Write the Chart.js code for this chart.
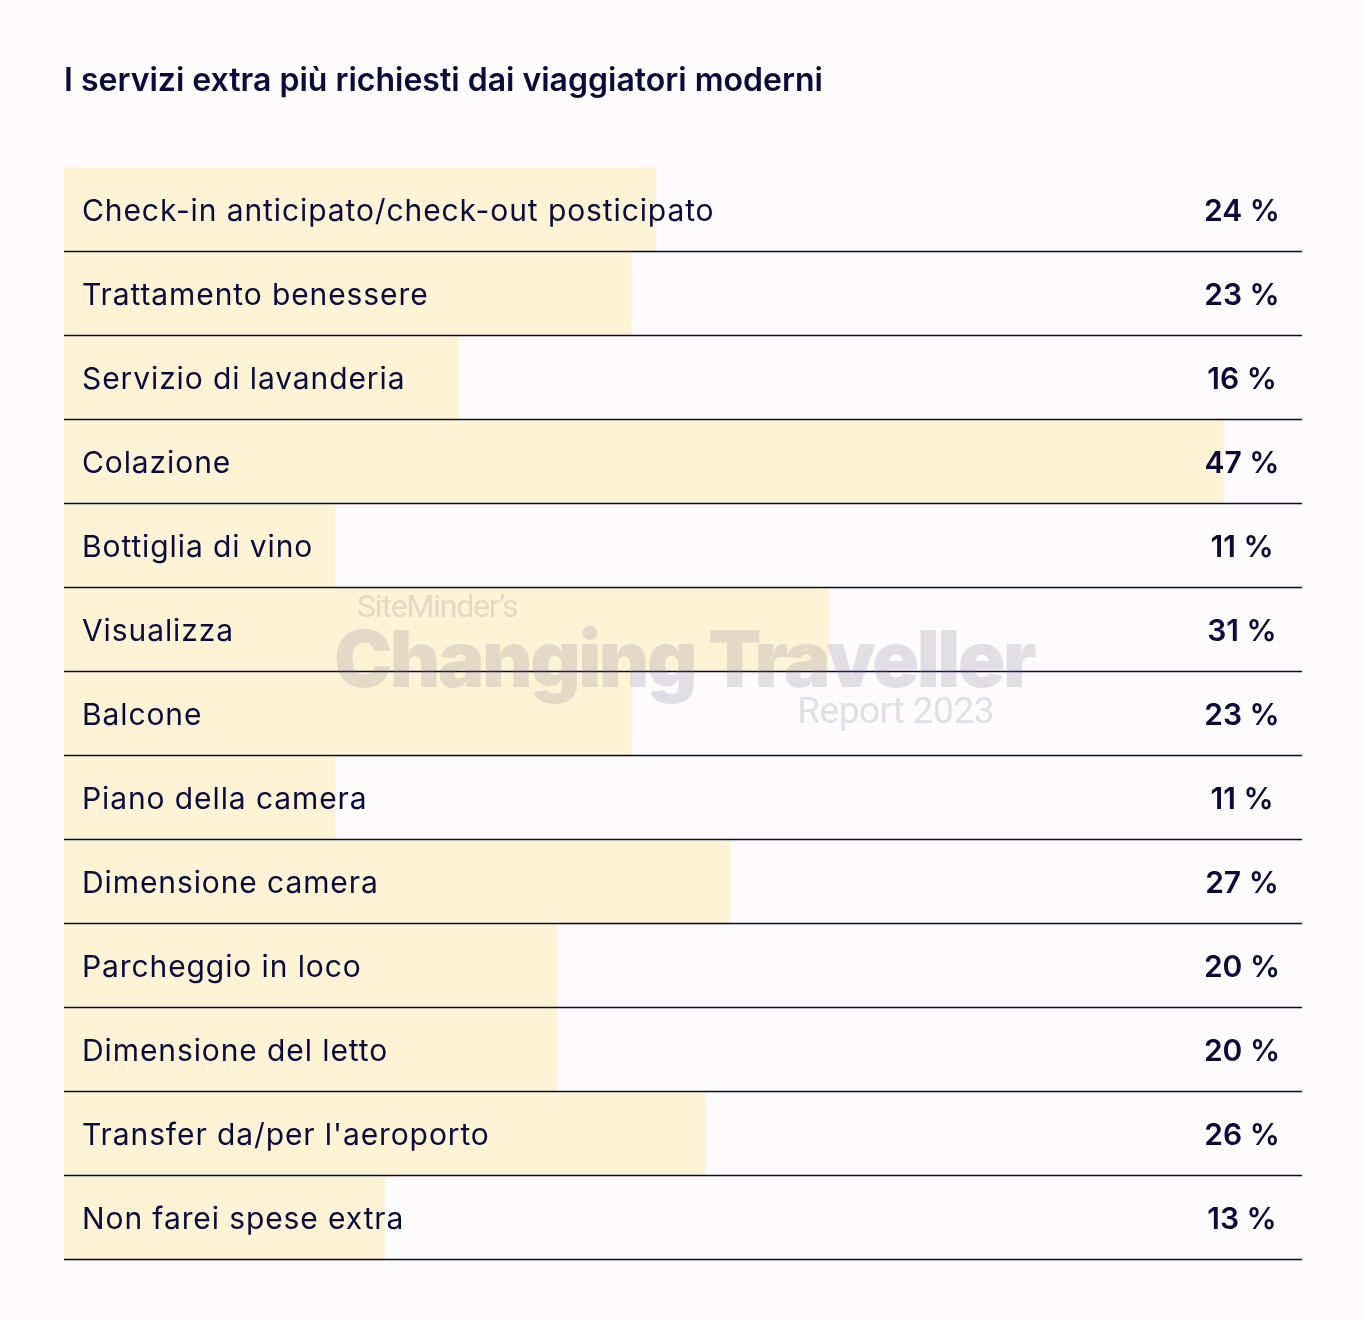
<!DOCTYPE html>
<html lang="it">
<head>
<meta charset="UTF-8">
<title>I servizi extra più richiesti</title>
<script src="https://cdn.jsdelivr.net/npm/chart.js@4.4.1/dist/chart.umd.min.js"></script>
<style>
  html, body { margin: 0; padding: 0; background: #fdfbfc; }
  #wrap { width: 1366px; height: 1320px; }
</style>
</head>
<body>
<div id="wrap"><canvas id="chart"></canvas></div>
<script>
const titleText = "I servizi extra più richiesti dai viaggiatori moderni";
const categories = [
  "Check-in anticipato/check-out posticipato",
  "Trattamento benessere",
  "Servizio di lavanderia",
  "Colazione",
  "Bottiglia di vino",
  "Visualizza",
  "Balcone",
  "Piano della camera",
  "Dimensione camera",
  "Parcheggio in loco",
  "Dimensione del letto",
  "Transfer da/per l'aeroporto",
  "Non farei spese extra"
];
const shares = [24, 23, 16, 47, 11, 31, 23, 11, 27, 20, 20, 26, 13];

const ink = "#0b0b3b";
const barFill = "#fff3d6";

// row labels, values, separators and watermark
const rowDecor = {
  id: "rowDecor",
  afterDatasetsDraw(chart) {
    const { ctx, chartArea } = chart;
    const bars = chart.getDatasetMeta(0).data;
    ctx.save();
    bars.forEach((bar, i) => {
      const yLine = Math.round(bar.y + bar.height / 2) - 0.5;
      ctx.strokeStyle = ink;
      ctx.lineWidth = 1.5;
      ctx.beginPath();
      ctx.moveTo(chartArea.left, yLine);
      ctx.lineTo(chartArea.right, yLine);
      ctx.stroke();

      ctx.fillStyle = ink;
      ctx.textBaseline = "middle";
      ctx.font = "30px Inter";
      ctx.letterSpacing = "0.9px";
      ctx.textAlign = "left";
      ctx.fillText(categories[i], chartArea.left + 18, bar.y + 2);
      ctx.font = "600 30px Inter";
      ctx.letterSpacing = "0px";
      ctx.textAlign = "center";
      ctx.fillText(shares[i] + " %", chartArea.right - 60, bar.y + 2);
    });

    // watermark
    ctx.fillStyle = "rgba(120,110,140,0.2)";
    ctx.textBaseline = "alphabetic";
    ctx.textAlign = "left";
    ctx.font = "32px Roboto";
    ctx.letterSpacing = "-1.2px";
    ctx.fillText("SiteMinder’s", 357, 617);
    ctx.font = "900 78px Inter";
    ctx.letterSpacing = "-2.5px";
    ctx.fillText("Changing Traveller", 334, 687);
    ctx.textAlign = "right";
    ctx.font = "37px Roboto";
    ctx.letterSpacing = "-0.5px";
    ctx.fillText("Report 2023", 994, 723);
    ctx.restore();
  }
};

new Chart(document.getElementById("chart"), {
  type: "bar",
  data: {
    labels: categories,
    datasets: [{
      data: shares,
      backgroundColor: barFill,
      borderWidth: 0,
      barPercentage: 1,
      categoryPercentage: 1
    }]
  },
  options: {
    indexAxis: "y",
    responsive: true,
    maintainAspectRatio: false,
    animation: false,
    layout: { padding: { left: 64, right: 64, top: 0, bottom: 60 } },
    scales: {
      x: { display: false, min: 0, max: 50.2 },
      y: { display: false }
    },
    plugins: {
      legend: { display: false },
      tooltip: { enabled: false },
      title: {
        display: true,
        text: titleText,
        align: "start",
        color: ink,
        font: { family: "Inter", size: 32, weight: "600", lineHeight: 1.2 },
        padding: { top: 62, bottom: 67.6 }
      }
    }
  },
  plugins: [rowDecor]
});
</script>
</body>
</html>
